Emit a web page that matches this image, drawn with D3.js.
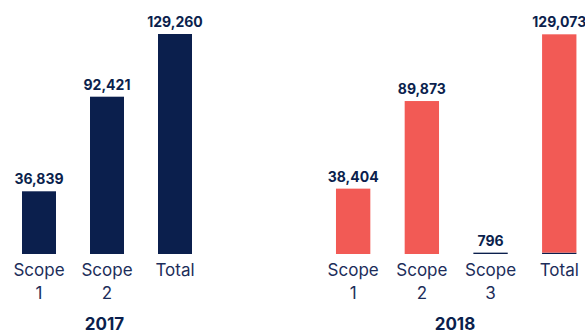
<!DOCTYPE html>
<html>
<head>
<meta charset="utf-8">
<script src="https://cdn.jsdelivr.net/npm/d3@7"></script>
<style>
  html, body { margin: 0; padding: 0; background: #fff; }
  svg { display: block; font-family: Inter, "Noto Sans", sans-serif; }
</style>
</head>
<body>
<svg id="chart" width="585" height="333"></svg>
<script>
// Emissions by scope, two reporting years
const years = ["2017", "2018"];
const categories2017 = ["Scope\n1", "Scope\n2", "Total"];
const values2017 = [36839, 92421, 129260];
const categories2018 = ["Scope\n1", "Scope\n2", "Scope\n3", "Total"];
const values2018 = [38404, 89873, 796, 129073];
// 2018 total split into its Scope 1+2 part and its Scope 3 part
const total2018Parts = [796, 128277];

const NAVY = "#0b1f4d";
const RED = "#f25a55";

const svg = d3.select("#chart");

const y = d3.scaleLinear().domain([0, 129260]).range([254, 34]);

const groups = [
  { year: years[0], cats: categories2017, vals: values2017, color: NAVY, range: [5, 209], yearX: 104.5 },
  { year: years[1], cats: categories2018, vals: values2018, color: RED, range: [318.8, 593.6], yearX: 455 }
];

const fmt = d3.format(",");

groups.forEach(g => {
  const x = d3.scaleBand()
    .domain(g.cats.map((c, i) => i))
    .range(g.range)
    .paddingInner(0.5)
    .paddingOuter(0.25);

  const gEl = svg.append("g");

  g.vals.forEach((v, i) => {
    const isTotal2018 = g.year === "2018" && g.cats[i] === "Total";
    const isScope3 = g.cats[i] === "Scope\n3";
    if (isTotal2018) {
      // stacked: Scope 3 at the base, remainder above
      let acc = 0;
      total2018Parts.forEach((p, k) => {
        gEl.append("rect")
          .attr("x", x(i))
          .attr("width", x.bandwidth())
          .attr("y", y(acc + p))
          .attr("height", y(acc) - y(acc + p))
          .attr("fill", k === 0 ? NAVY : RED);
        acc += p;
      });
    } else {
      gEl.append("rect")
        .attr("x", x(i))
        .attr("width", x.bandwidth())
        .attr("y", y(v))
        .attr("height", y(0) - y(v))
        .attr("fill", isScope3 ? NAVY : g.color);
    }

    gEl.append("text")
      .attr("x", x(i) + x.bandwidth() / 2)
      .attr("y", y(v) - 7)
      .attr("text-anchor", "middle")
      .attr("font-size", 14)
      .attr("font-weight", 700)
      .attr("fill", NAVY)
      .text(fmt(v));

    const lines = g.cats[i].split("\n");
    const t = gEl.append("text")
      .attr("text-anchor", "middle")
      .attr("font-size", 17)
      .attr("fill", "#1c2d5a");
    lines.forEach((ln, k) => {
      t.append("tspan")
        .attr("x", x(i) + x.bandwidth() / 2)
        .attr("y", 275.5 + k * 23)
        .text(ln);
    });
  });

  svg.append("text")
    .attr("x", g.yearX)
    .attr("y", 330)
    .attr("text-anchor", "middle")
    .attr("font-size", 17)
    .attr("font-weight", 700)
    .attr("fill", NAVY)
    .text(g.year);
});
</script>
</body>
</html>
